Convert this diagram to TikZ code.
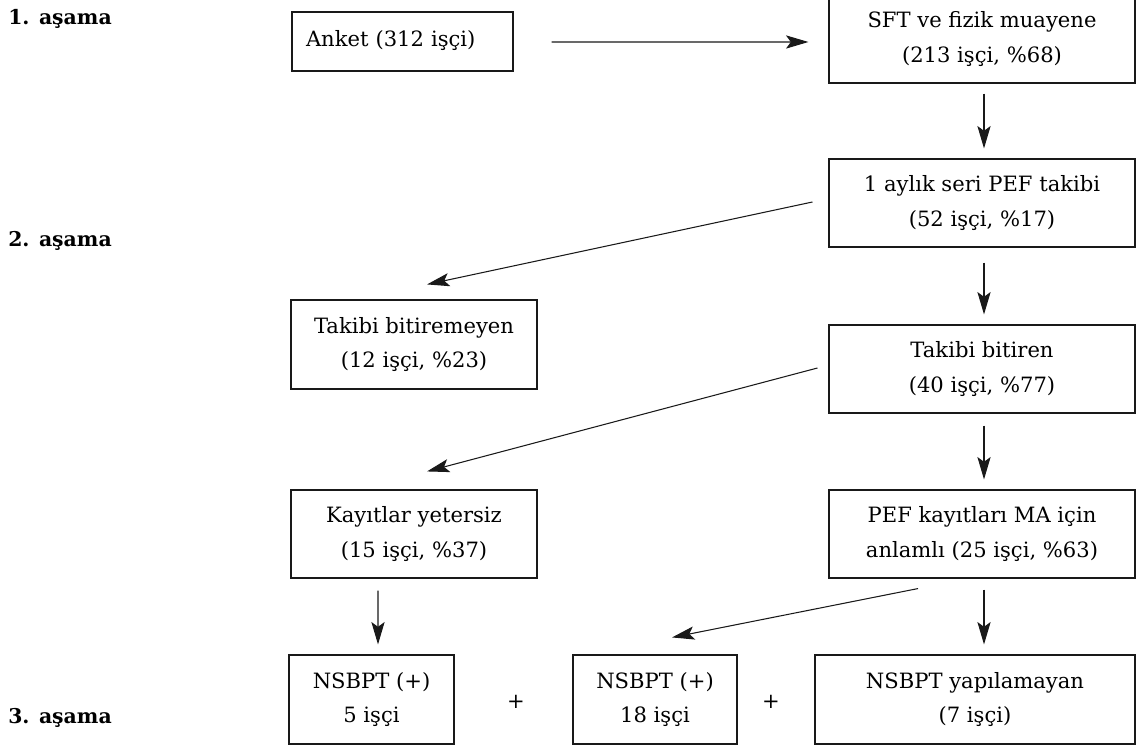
\documentclass[tikz,border=0pt]{standalone}
\usepackage{fontspec}
\setmainfont{DejaVu Serif}
\usetikzlibrary{arrows.meta,calc}
\tikzset{
  box/.style 2 args={draw=black!90, line width=0.8pt, rectangle, inner sep=0pt,
    minimum width=#1*0.025cm, minimum height=#2*0.025cm, align=center,
    font=\fontsize{15}{24.5}\selectfont},
  arr/.style={draw=black!90, line width=0.75pt, -{Stealth[length=5.6mm,width=3.3mm,inset=1.2mm]}},
  stage/.style={anchor=west, font=\fontsize{14.5}{17}\selectfont\bfseries, inner sep=0pt},
  plus/.style={font=\fontsize{15}{18}\selectfont, inner sep=0pt}
}
\begin{document}
\begin{tikzpicture}[x=0.025cm, y=-0.025cm]
\useasboundingbox (0,0) rectangle (1136,747);
\clip (0,0) rectangle (1136,747);
% stage labels
\node[stage] (s1) at (8,19) {1. aşama};
\node[stage] (s2) at (8,241) {2. aşama};
\node[stage] (s3) at (8,718) {3. aşama};
% boxes
\node[box={221}{59}, text width=193*0.025cm, align=left] (anket) at (402.5,41.5) {\raisebox{4pt}{Anket (312 işçi)}};
\node[box={306}{88}] (sft) at (982,39) {SFT ve fizik muayene\\(213 işçi, \%68)};
\node[box={306}{88}] (aylik) at (982,203) {1 aylık seri PEF takibi\\(52 işçi, \%17)};
\node[box={246}{89}] (bitirem) at (414,344.5) {Takibi bitiremeyen\\(12 işçi, \%23)};
\node[box={306}{88}] (bitiren) at (982,369) {Takibi bitiren\\(40 işçi, \%77)};
\node[box={246}{88}] (kayit) at (414,534) {Kayıtlar yetersiz\\(15 işçi, \%37)};
\node[box={306}{88}] (pef) at (982,534) {PEF kayıtları MA için\\anlamlı (25 işçi, \%63)};
\node[box={165}{89}] (nsb5) at (371.5,699.5) {NSBPT (+)\\5 işçi};
\node[box={164}{89}] (nsb18) at (655,699.5) {NSBPT (+)\\18 işçi};
\node[box={320}{89}] (nsbx) at (975,699.5) {NSBPT yapılamayan\\(7 işçi)};
\node[plus] (p1) at (516,702) {+};
\node[plus] (p2) at (771,702) {+};
% connectors
\draw[arr] ($(anket.east)+(38,0.5)$) -- ($(sft.west)+(-20,3)$);
\draw[arr] ($(sft.south)+(2,10)$) -- ($(aylik.north)+(2,-10)$);
\draw[arr] ($(aylik.west)+(-16,-1)$) -- ($(bitirem.north)+(13,-15)$);
\draw[arr] ($(aylik.south)+(2,15)$) -- ($(bitiren.north)+(2,-10)$);
\draw[arr] ($(bitiren.west)+(-11,-1)$) -- ($(kayit.north)+(13,-18)$);
\draw[arr] ($(bitiren.south)+(2,12)$) -- ($(pef.north)+(2,-10)$);
\draw[arr] ($(kayit.south)+(-36,12)$) -- ($(nsb5.north)+(6.5,-10)$);
\draw[arr] ($(pef.south)+(-64,10)$) -- ($(nsb18.north)+(17,-17)$);
\draw[arr] ($(pef.south)+(2,11)$) -- ($(nsbx.north)+(9,-10)$);
\end{tikzpicture}
\end{document}
